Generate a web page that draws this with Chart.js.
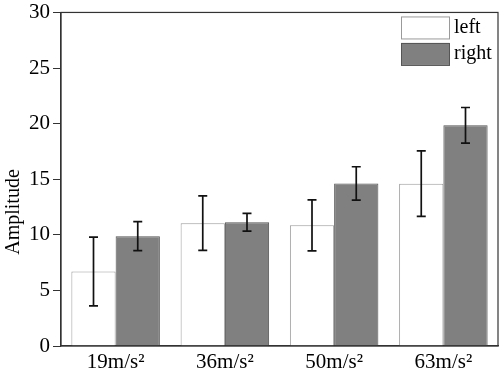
<!DOCTYPE html>
<html>
<head>
<meta charset="utf-8">
<script src="https://cdn.jsdelivr.net/npm/chart.js@4"></script>
<style>
  html, body { margin: 0; padding: 0; background: #fff; }
  #wrap { width: 503px; height: 372px; }
</style>
</head>
<body>
<div id="wrap"><canvas id="chart"></canvas></div>
<script>
const categories = ['19m/s\u00B2', '36m/s\u00B2', '50m/s\u00B2', '63m/s\u00B2'];
const leftValues = [6.7, 11.05, 10.85, 14.6];
const leftErrors = [3.1, 2.45, 2.3, 2.95];
const rightValues = [9.88, 11.13, 14.62, 19.85];
const rightErrors = [1.3, 0.8, 1.5, 1.6];
const yTicks = [0, 5, 10, 15, 20, 25, 30];
const yTitle = 'Amplitude';

const serif = '"Liberation Serif", "Times New Roman", serif';

// error bars drawn from the arrays above, through the chart's scales
const errorBars = {
    id: 'errorBars',
    afterDatasetsDraw(chart) {
        const ctx = chart.ctx;
        const y = chart.scales.y;
        ctx.save();
        ctx.strokeStyle = '#111';
        ctx.lineWidth = 1.7;
        chart.data.datasets.forEach((ds, i) => {
            const meta = chart.getDatasetMeta(i);
            meta.data.forEach((bar, j) => {
                const v = ds.data[j], e = ds.errors[j];
                const top = y.getPixelForValue(v + e);
                const bot = y.getPixelForValue(v - e);
                const x = bar.x, cap = 4.5;
                ctx.beginPath();
                ctx.moveTo(x, top); ctx.lineTo(x, bot);
                ctx.moveTo(x - cap, top); ctx.lineTo(x + cap, top);
                ctx.moveTo(x - cap, bot); ctx.lineTo(x + cap, bot);
                ctx.stroke();
            });
        });
        ctx.restore();
    }
};

// frame around the plot area, legend in its top right corner, y title
const frameAndLegend = {
    id: 'frameAndLegend',
    afterDraw(chart) {
        const ctx = chart.ctx;
        const a = chart.chartArea;
        ctx.save();
        ctx.strokeStyle = '#333';
        ctx.lineWidth = 1.2;
        ctx.strokeRect(a.left, a.top, a.right - a.left, a.bottom - a.top);

        ctx.font = '20px ' + serif;
        ctx.textBaseline = 'middle';
        chart.data.datasets.forEach((ds, i) => {
            const bx = a.right - 97, by = a.top + 4 + i * 26.5;
            ctx.fillStyle = ds.backgroundColor;
            ctx.fillRect(bx, by, 48, 22);
            ctx.strokeStyle = ds.borderColor;
            ctx.lineWidth = 1;
            ctx.strokeRect(bx + 0.5, by + 0.5, 48, 22);
            ctx.fillStyle = '#000';
            ctx.fillText(ds.label, bx + 53, by + 11);
        });

        // axis title, sits a bit below the middle like the original
        ctx.translate(14, 212);
        ctx.rotate(-Math.PI / 2);
        ctx.textAlign = 'center';
        ctx.textBaseline = 'middle';
        ctx.fillStyle = '#000';
        ctx.font = '20px ' + serif;
        ctx.fillText(yTitle, 0, 0);
        ctx.restore();
    }
};

new Chart(document.getElementById('chart'), {
    type: 'bar',
    data: {
        labels: categories,
        datasets: [
            {
                label: 'left',
                data: leftValues,
                errors: leftErrors,
                backgroundColor: '#ffffff',
                borderColor: '#9a9a9a',
                borderWidth: 1
            },
            {
                label: 'right',
                data: rightValues,
                errors: rightErrors,
                backgroundColor: '#808080',
                borderColor: '#555555',
                borderWidth: 1
            }
        ]
    },
    options: {
        responsive: true,
        maintainAspectRatio: false,
        animation: false,
        devicePixelRatio: 1,
        layout: { padding: { top: 0, right: 5, left: 0, bottom: 0 } },
        plugins: {
            legend: { display: false },
            tooltip: { enabled: false }
        },
        datasets: {
            bar: { categoryPercentage: 0.81, barPercentage: 1.0 }
        },
        scales: {
            x: {
                grid: { display: false, drawTicks: false, tickLength: 0 },
                border: { color: '#333', width: 1.2 },
                ticks: {
                    color: '#000',
                    font: { family: serif, size: 21 },
                    padding: 4,
                    maxRotation: 0
                },
                afterFit(scale) { scale.height = 26; }
            },
            y: {
                min: 0,
                max: 30,
                afterBuildTicks(scale) { scale.ticks = yTicks.map(v => ({ value: v })); },
                grid: {
                    drawOnChartArea: false,
                    drawTicks: true,
                    tickLength: 8,
                    color: '#333'
                },
                border: { color: '#333', width: 1.2 },
                ticks: {
                    color: '#000',
                    font: { family: serif, size: 21, lineHeight: 0.9 },
                    padding: 3
                },
                afterFit(scale) { scale.width = 61; }
            }
        }
    },
    plugins: [errorBars, frameAndLegend]
});
</script>
</body>
</html>
